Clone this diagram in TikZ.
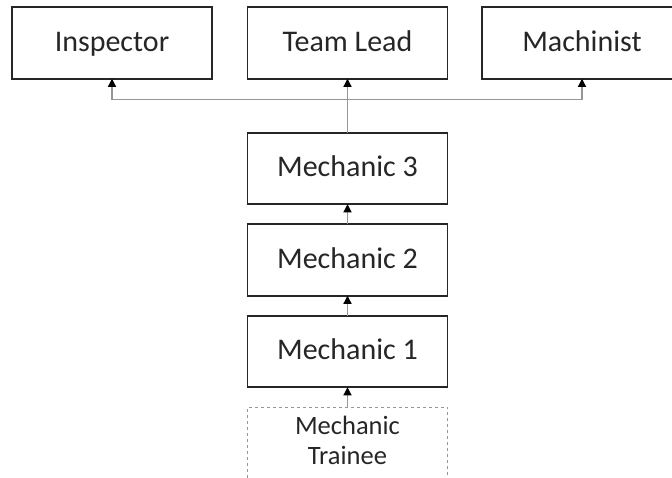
\documentclass[tikz,border=0pt]{standalone}
\usepackage{fontspec}
\setmainfont{Carlito}
\usetikzlibrary{arrows.meta, positioning}
\definecolor{BoxLine}{RGB}{38,38,38}
\definecolor{LinkGray}{RGB}{150,150,150}

\begin{document}
\begin{tikzpicture}[
    role/.style={rectangle, draw=BoxLine, line width=1.6pt, outer sep=0pt, minimum width=200pt, minimum height=71.5pt, text height=18pt, text depth=2pt, text=BoxLine, font=\fontsize{30}{34}\selectfont},
    trainee/.style={rectangle, draw=LinkGray, dash pattern=on 3pt off 3pt, line width=1.4pt, outer sep=0pt, minimum width=200pt, minimum height=90pt, text depth=24pt, align=center, text=BoxLine, font=\fontsize{26.5}{30}\selectfont},
    link/.style={draw=LinkGray, line width=1.2pt, -{Triangle[color=black, length=8pt, width=8pt]}},
    node distance=20pt
  ]
  \useasboundingbox (0,0) rectangle (672pt,-477pt);
  \clip (0,0) rectangle (672pt,-477pt);

  % top row
  \node (insp) [role] at (112pt,-43pt) {Inspector};
  \node (lead) [role] at (347.5pt,-43pt) {Team Lead};
  \node (mach) [role] at (582pt,-43pt) {Machinist};

  % mechanic ladder
  \node (mech3) [role, below=54pt of lead] {Mechanic 3};
  \node (mech2) [role, below=of mech3] {Mechanic 2};
  \node (mech1) [role, below=of mech2] {Mechanic 1};
  \node (train) [trainee, below=of mech1] {Mechanic\\Trainee};

  \draw[link] (train) -- (mech1);
  \draw[link] (mech1) -- (mech2);
  \draw[link] (mech2) -- (mech3);
  \draw[link] (mech3) -- (lead);

  \coordinate (split) at ([yshift=-21pt]lead.south);
  \draw[link] (split) -| (insp.south);
  \draw[link] (split) -| (mach.south);
\end{tikzpicture}
\end{document}
